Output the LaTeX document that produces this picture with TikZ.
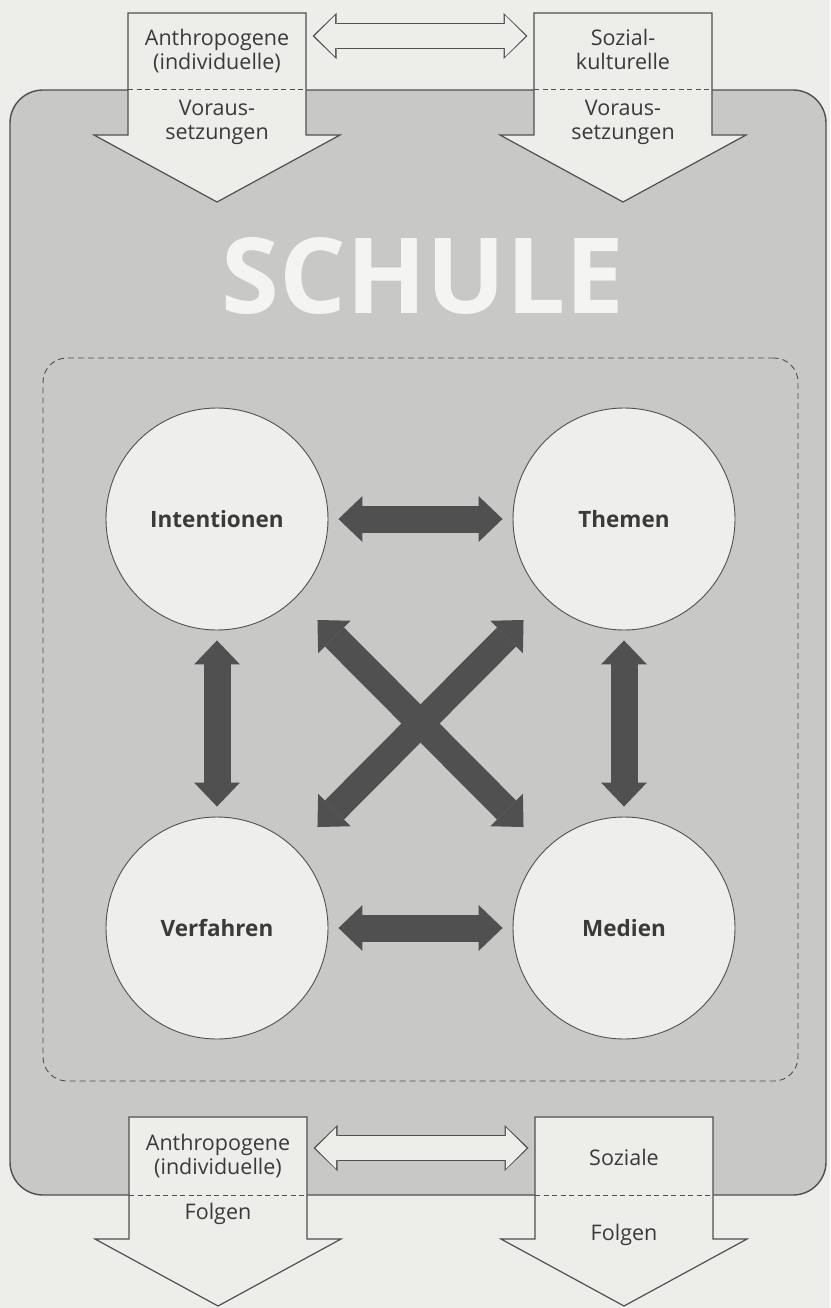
\documentclass[tikz,border=0pt]{standalone}
\usepackage{fontspec}
\setmainfont{Open Sans}
\usetikzlibrary{arrows.meta,
                positioning
                }
\definecolor{paper}{HTML}{EDEDEA}
\definecolor{schul}{HTML}{C8C8C6}
\definecolor{ink}{HTML}{505050}
\definecolor{circ}{HTML}{EEEEEC}
\definecolor{txt}{HTML}{3A3A3A}
\definecolor{wht}{HTML}{F4F4F2}

\begin{document}
\begin{tikzpicture}[x=1pt, y=-1pt,
node distance = 0pt,
 schulbox/.style = {draw=ink, fill=schul, line width=1.4pt,
                    rounded corners=33pt, inner sep=0pt},
    frame/.style = {draw=ink, line width=0.9pt, dash pattern=on 6pt off 4pt,
                    rounded corners=24pt, inner sep=0pt},
    shaft/.style = {minimum width=178pt, minimum height=122pt,
                    inner sep=0pt, outer sep=0pt},
   bigarr/.style = {draw=ink, fill=paper, line width=1.2pt, line join=miter},
     edge/.style = {draw=ink, line width=1.1pt, dash pattern=on 5pt off 3.5pt},
      lbl/.style = {align=center, inner sep=0pt, text=txt,
                    font=\fontsize{21.5}{24}\selectfont},
    topic/.style = {circle, draw=ink, fill=circ, line width=0.9pt,
                    minimum size=222pt, inner sep=0pt, text=txt,
                    font=\fontsize{22.5}{26}\selectfont\bfseries},
     link/.style = {draw=ink, line width=27pt,
                    {Triangle[width=46pt,length=24pt,line width=0pt]}-{Triangle[width=46pt,length=24pt,line width=0pt]},
                    shorten <=10pt, shorten >=10pt},
   dblout/.style = {draw=ink, line width=26pt,
                    {Triangle[width=46pt,length=24pt,line width=0pt]}-{Triangle[width=46pt,length=24pt,line width=0pt]},
                    shorten <=6.5pt, shorten >=6.5pt},
    dblin/.style = {draw=paper, line width=23.4pt,
                    {Triangle[width=41.2pt,length=20.6pt,line width=0pt]}-{Triangle[width=41.2pt,length=20.6pt,line width=0pt]},
                    shorten <=8.5pt, shorten >=8.5pt},
                        ]
\useasboundingbox[fill=paper] (0,0) rectangle (830,1308);
% Schule
\node[schulbox, minimum width=816pt, minimum height=1105pt] (schule) at (418,642.5) {};
% Voraussetzungen / Folgen
\node[shaft] (vl) at (217,74) {};
\node[shaft] (vr) at (623,74) {};
\node[shaft] (fl) at (218,1178) {};
\node[shaft] (fr) at (624,1178) {};
\draw[bigarr] (vl.north west) -- (vl.south west) -- ++(-34,0) -- ++(123,67)
              -- ++(123,-67) -- (vl.south east) -- (vl.north east) -- cycle;
\draw[bigarr] (vr.north west) -- (vr.south west) -- ++(-34,0) -- ++(123,67)
              -- ++(123,-67) -- (vr.south east) -- (vr.north east) -- cycle;
\draw[bigarr] (fl.north west) -- (fl.south west) -- ++(-34,0) -- ++(123,67)
              -- ++(123,-67) -- (fl.south east) -- (fl.north east) -- cycle;
\draw[bigarr] (fr.north west) -- (fr.south west) -- ++(-34,0) -- ++(123,67)
              -- ++(123,-67) -- (fr.south east) -- (fr.north east) -- cycle;
\draw[edge] (vl.west |- schule.north) -- (vl.east |- schule.north);
\draw[edge] (vr.west |- schule.north) -- (vr.east |- schule.north);
\draw[edge] (fl.west |- schule.south) -- (fl.east |- schule.south);
\draw[edge] (fr.west |- schule.south) -- (fr.east |- schule.south);
%
\node[anchor=base, text=wht, font=\fontsize{105}{105}\selectfont\bfseries]
    (title) at (423,313) {SCHULE};
\node[frame, minimum width=755pt, minimum height=723pt] (unterricht) at (420.5,719.5) {};
% Strukturmomente
\node[topic] (int) at (217,519) {Intentionen};
\node[topic] (the) at (624,519) {Themen};
\node[topic] (ver) at (217,928) {Verfahren};
\node[topic] (med) at (624,928) {Medien};
\draw[link] (int) -- (the);
\draw[link] (ver) -- (med);
\draw[link] (int) -- (ver);
\draw[link] (the) -- (med);
\draw[link, shorten <=31pt, shorten >=31pt] (int) -- (med);
\draw[link, shorten <=31pt, shorten >=31pt] (the) -- (ver);
%
\draw[dblout] ([yshift=-23pt]vl.north east) -- ([yshift=-23pt]vr.north west);
\draw[dblin]  ([yshift=-23pt]vl.north east) -- ([yshift=-23pt]vr.north west);
\draw[dblout] ([yshift=-31pt]fl.north east) -- ([yshift=-31pt]fr.north west);
\draw[dblin]  ([yshift=-31pt]fl.north east) -- ([yshift=-31pt]fr.north west);
%
\node[lbl, below=16pt of vl.north]  {Anthropogene\\(individuelle)};
\node[lbl, below=86.5pt of vl.north] {Voraus-\\setzungen};
\node[lbl, below=16pt of vr.north]  {Sozial-\\kulturelle};
\node[lbl, below=86.5pt of vr.north] {Voraus-\\setzungen};
\node[lbl, below=17pt of fl.north]  {Anthropogene\\(individuelle)};
\node[lbl, below=86pt of fl.north]  {Folgen};
\node[lbl, below=32pt of fr.north]  {Soziale};
\node[lbl, below=107pt of fr.north] {Folgen};
\end{tikzpicture}
\end{document}
